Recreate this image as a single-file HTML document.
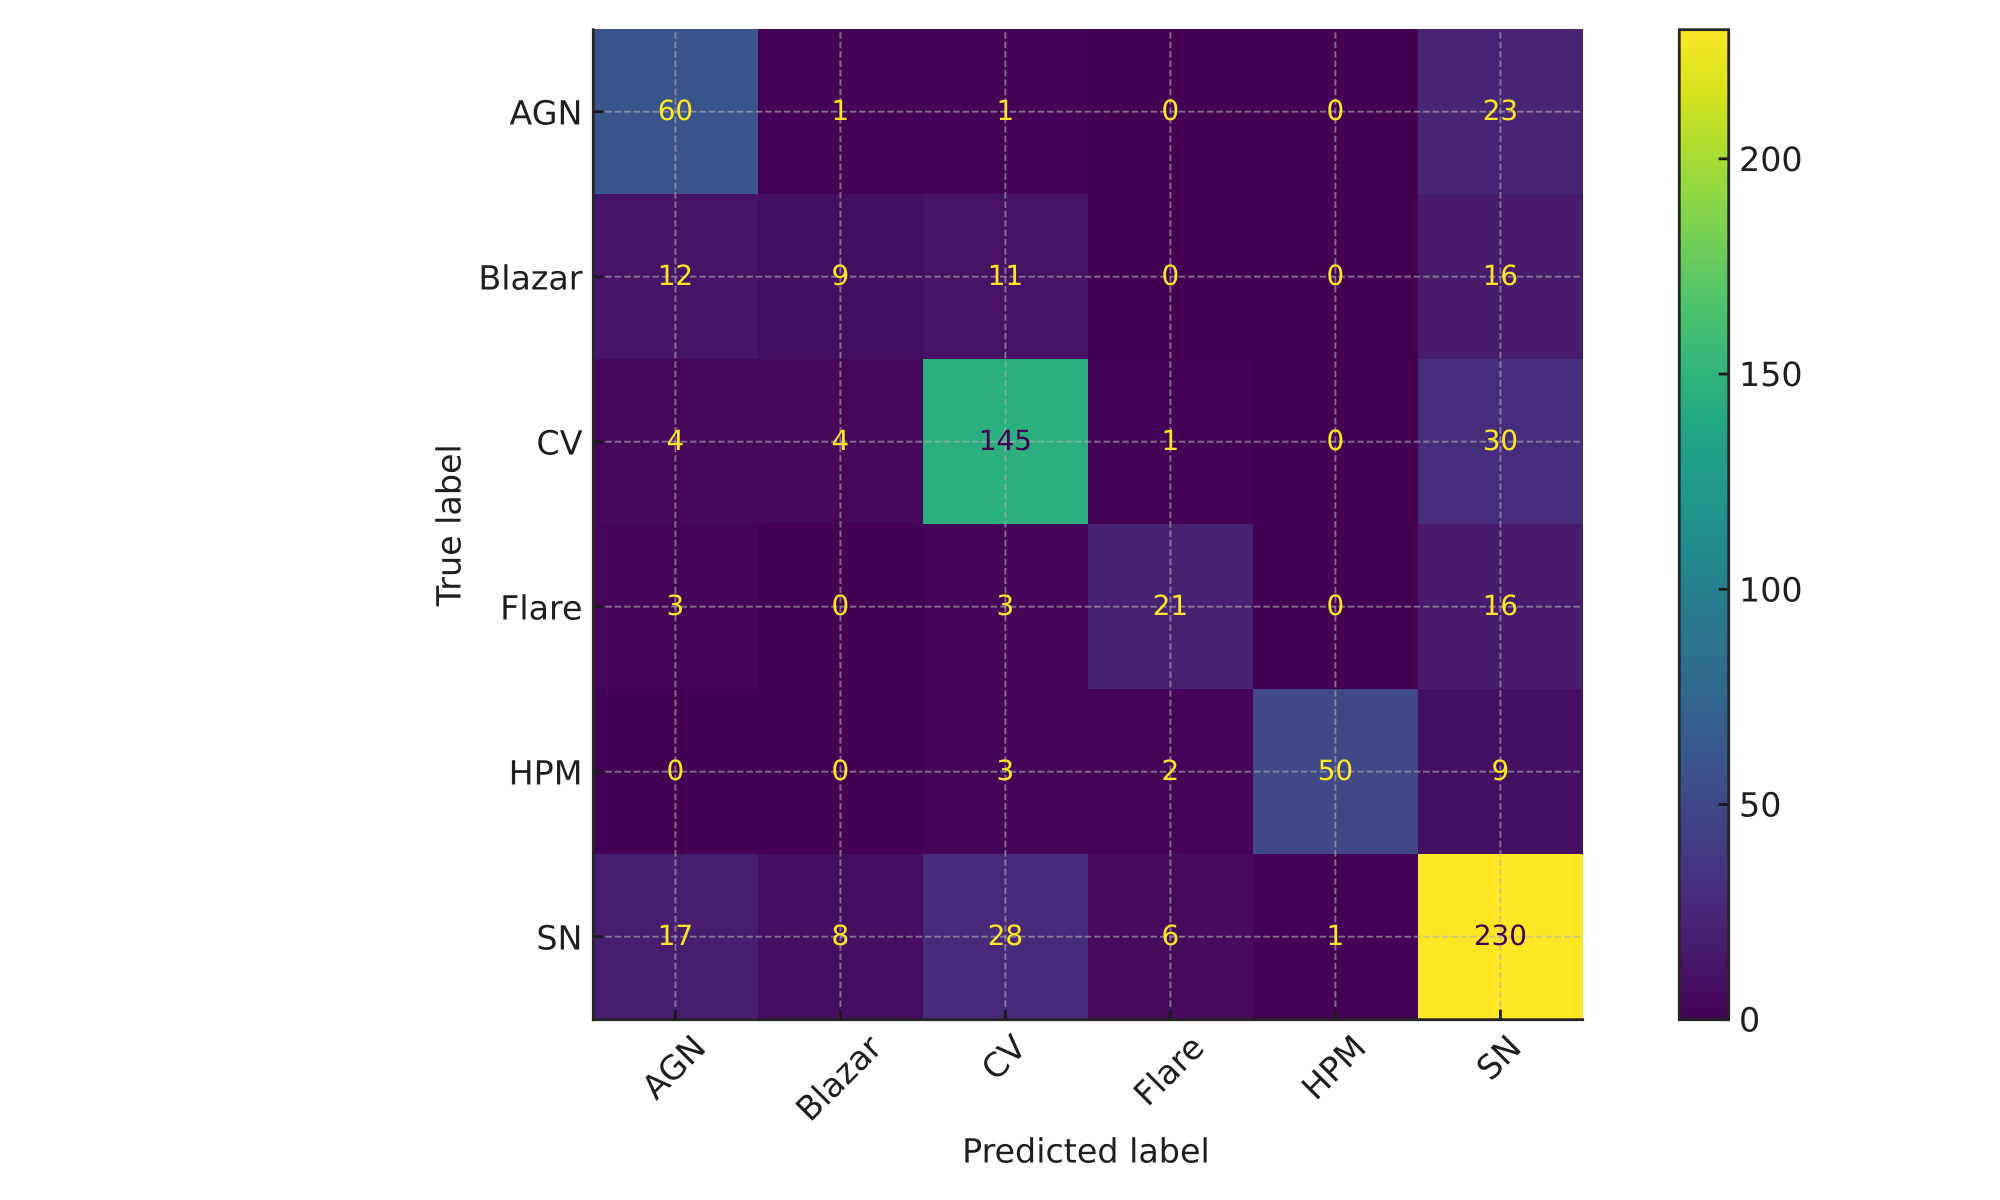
<!DOCTYPE html>
<html lang="en">
<head>
<meta charset="utf-8">
<title>Confusion matrix</title>
<style>
html,body{margin:0;padding:0;background:#fff;width:2000px;height:1200px;overflow:hidden}
svg{display:block}
text{font-family:"DejaVu Sans","Liberation Sans",sans-serif;text-rendering:geometricPrecision}
</style>
</head>
<body>
<svg id="chart" width="2000" height="1200" viewBox="0 0 2000 1200" xmlns="http://www.w3.org/2000/svg"></svg>
<script>
const categories = ['AGN', 'Blazar', 'CV', 'Flare', 'HPM', 'SN'];
const rowAGN = [60, 1, 1, 0, 0, 23];
const rowBlazar = [12, 9, 11, 0, 0, 16];
const rowCV = [4, 4, 145, 1, 0, 30];
const rowFlare = [3, 0, 3, 21, 0, 16];
const rowHPM = [0, 0, 3, 2, 50, 9];
const rowSN = [17, 8, 28, 6, 1, 230];
const matrix = [rowAGN, rowBlazar, rowCV, rowFlare, rowHPM, rowSN];
const colorbarTicks = [0, 50, 100, 150, 200];
const viridisStops = ['#440154','#481a6c','#472f7d','#414487','#39568c','#31688e','#2a788e','#23888e','#1f988b','#22a884','#35b779','#54c568','#7ad151','#a5db36','#d2e21b','#fde725'];

const SVG_NS = 'http://www.w3.org/2000/svg';
const svg = document.getElementById('chart');
const TEXT = '#1f1f1f';
const SPINE = '#262626';
const plot = {left: 592.9, top: 29.2, right: 1582.9, bottom: 1019.2};
const spine = {left: 593.3, bottom: 1019.7, top: 29.7, right: 1582.7};
const bar = {left: 1679.3, right: 1728.7, top: 29.7, bottom: 1019.7};

const allValues = matrix.flat();
const vmin = Math.min(...allValues);
const vmax = Math.max(...allValues);
const cellW = (plot.right - plot.left) / categories.length;
const cellH = (plot.bottom - plot.top) / categories.length;
const xScale = i => plot.left + (i + 0.5) * cellW;
const yScale = i => plot.top + (i + 0.5) * cellH;
const barScale = v => bar.bottom - (v - vmin) / (vmax - vmin) * (bar.bottom - bar.top);

function hexToRgb(h) {
  return [1, 3, 5].map(p => parseInt(h.slice(p, p + 2), 16));
}
function viridis(t) {
  const c = Math.max(0, Math.min(1, t)) * (viridisStops.length - 1);
  const i = Math.min(Math.floor(c), viridisStops.length - 2);
  const f = c - i;
  const a = hexToRgb(viridisStops[i]);
  const b = hexToRgb(viridisStops[i + 1]);
  return 'rgb(' + a.map((v, k) => Math.round(v + (b[k] - v) * f)).join(',') + ')';
}
function el(tag, attrs, parent) {
  const n = document.createElementNS(SVG_NS, tag);
  for (const k in attrs) n.setAttribute(k, attrs[k]);
  (parent || svg).appendChild(n);
  return n;
}

/* heatmap cells */
const cellsGroup = el('g', {'shape-rendering': 'crispEdges'});


matrix.forEach((row, r) => {
  row.forEach((v, c) => {
    const cell = el('rect', {
      x: xScale(c) - cellW / 2,
      y: yScale(r) - cellH / 2,
      width: cellW,
      height: cellH,
      fill: viridis((v - vmin) / (vmax - vmin))
    }, cellsGroup);
    
    
  });
});

/* grid */
const gridGroup = el('g', {stroke: '#b0b0b0', 'stroke-opacity': 0.6, 'stroke-width': 1.9, 'stroke-dasharray': '6.6 2.8', fill: 'none'});


categories.forEach((name, i) => {
  const v = el('line', {x1: xScale(i), x2: xScale(i), y1: plot.top + 3, y2: plot.bottom - 3}, gridGroup);
  
  
  const h = el('line', {x1: plot.left + 3, x2: plot.right - 3, y1: yScale(i), y2: yScale(i)}, gridGroup);
  
  
});

/* cell annotations */
matrix.forEach((row, r) => {
  row.forEach((v, c) => {
    const t = el('text', {
      x: xScale(c),
      y: yScale(r) + 8.5,
      'text-anchor': 'middle',
      'font-size': 27.8,
      fill: (v - vmin) / (vmax - vmin) < 0.5 ? '#fde725' : '#440154'
    });
    t.textContent = v;
    
    
  });
});

/* axis ticks + labels */
categories.forEach((name, i) => {
  const yt = el('line', {x1: spine.left, x2: spine.left + 10, y1: yScale(i), y2: yScale(i), stroke: '#1a1a1a', 'stroke-width': 2.8});
  
  
  const xt = el('line', {x1: xScale(i), x2: xScale(i), y1: spine.bottom - 10, y2: spine.bottom, stroke: '#1a1a1a', 'stroke-width': 2.8});
  
  

  const yl = el('text', {x: 582.5, y: yScale(i) + 13, 'text-anchor': 'end', 'font-size': 33.33, fill: TEXT});
  yl.textContent = name;
  
  

  const xl = el('text', {'text-anchor': 'middle', 'font-size': 33.33, fill: TEXT});
  xl.textContent = name;
  
  
  const w = xl.getComputedTextLength();
  const cx = xScale(i) - 2;
  const cy = spine.bottom + 12.5 + (w + 25) * 0.7071 / 2;
  xl.setAttribute('x', cx);
  xl.setAttribute('y', cy + 12);
  xl.setAttribute('transform', 'rotate(-45 ' + cx + ' ' + cy + ')');
});

/* spines */
const leftSpine = el('line', {x1: spine.left, x2: spine.left, y1: spine.top, y2: spine.bottom, stroke: SPINE, 'stroke-width': 2.8, 'stroke-linecap': 'square'});


const bottomSpine = el('line', {x1: spine.left, x2: spine.right, y1: spine.bottom, y2: spine.bottom, stroke: SPINE, 'stroke-width': 2.8, 'stroke-linecap': 'square'});



/* axis titles */
const xTitle = el('text', {x: (plot.left + plot.right) / 2 - 2, y: 1162.7, 'text-anchor': 'middle', 'font-size': 33.33, fill: TEXT});
xTitle.textContent = 'Predicted label';


const yTitleX = 460.7;
const yTitleY = (plot.top + plot.bottom) / 2 + 1;
const yTitle = el('text', {x: yTitleX, y: yTitleY, 'text-anchor': 'middle', 'font-size': 33.33, fill: TEXT, transform: 'rotate(-90 ' + yTitleX + ' ' + yTitleY + ')'});
yTitle.textContent = 'True label';



/* colorbar */
const defs = el('defs', {});
const grad = el('linearGradient', {id: 'viridis-gradient', x1: 0, y1: 1, x2: 0, y2: 0}, defs);
viridisStops.forEach((color, i) => {
  el('stop', {offset: i / (viridisStops.length - 1), 'stop-color': color}, grad);
});
const barFill = el('rect', {x: bar.left, y: bar.top, width: bar.right - bar.left, height: bar.bottom - bar.top, fill: 'url(#viridis-gradient)'});


colorbarTicks.forEach(v => {
  const tick = el('line', {x1: bar.right - 10, x2: bar.right, y1: barScale(v), y2: barScale(v), stroke: '#1a1a1a', 'stroke-width': 2.8});
  
  
  const label = el('text', {x: 1739, y: barScale(v) + 12, 'font-size': 33.33, fill: TEXT});
  label.textContent = v;
  
  
});
const barBorder = el('rect', {x: bar.left, y: bar.top, width: bar.right - bar.left, height: bar.bottom - bar.top, fill: 'none', stroke: SPINE, 'stroke-width': 2.8});


</script>
</body>
</html>
